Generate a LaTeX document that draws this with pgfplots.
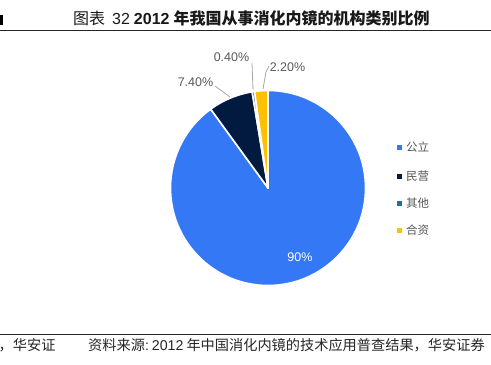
\documentclass[border=0pt]{standalone}
\usepackage{fontspec}
\setmainfont{Liberation Sans}
\newfontfamily\cjk{Noto Sans CJK SC}
\usepackage{pgfplots}
\usepackage{pgfplotstable}
\pgfplotsset{compat=1.18}

\definecolor{cBlue}{RGB}{52,120,246}
\definecolor{cNavy}{RGB}{2,26,64}
\definecolor{cTeal}{RGB}{31,110,168}
\definecolor{cYellow}{RGB}{255,192,0}
\definecolor{lblGray}{RGB}{89,89,89}
\definecolor{leadGray}{RGB}{166,166,166}
\definecolor{legGray}{RGB}{85,85,85}

% share (%) of each category, clockwise from 12 o'clock
\pgfplotstableread{
idx value
0 90
1 7.4
2 0.4
3 2.2
}\piedata

\pgfplotstablegetelem{0}{value}\of\piedata \global\let\vA\pgfplotsretval
\pgfplotstablegetelem{1}{value}\of\piedata \global\let\vB\pgfplotsretval
\pgfplotstablegetelem{2}{value}\of\piedata \global\let\vC\pgfplotsretval
\pgfplotstablegetelem{3}{value}\of\piedata \global\let\vD\pgfplotsretval

\begin{document}
\begin{tikzpicture}[x=1bp,y=1bp]
\path[use as bounding box] (0,0) rectangle (491,364);

\pgfmathsetmacro\aA{90}
\pgfmathsetmacro\aB{\aA-3.6*\vA}
\pgfmathsetmacro\aC{\aB-3.6*\vB}
\pgfmathsetmacro\aD{\aC-3.6*\vC}
\pgfmathsetmacro\aE{\aD-3.6*\vD}

% title
\fill[black] (0,339) rectangle (2.5,349);
\node[anchor=west, inner sep=0, text=black!90] at (73,346)
  {\fontsize{16bp}{19bp}\selectfont{\cjk 图表}\hspace{7bp}32\hspace{4bp}\textbf{2012}\hspace{4bp}{\cjk\bfseries 年我国从事消化内镜的机构类别比例}};
\draw[black!85, line width=1bp] (0,333.5) -- (491,333.5);

\begin{axis}[at={(268bp,176bp)}, anchor=center,
  x=97.5bp, y=97.5bp,
  xmin=-1.1, xmax=1.1, ymin=-1.1, ymax=1.1,
  hide axis, clip=false]
  \fill[cBlue, draw=white, line width=1.6bp, line join=round] (axis cs:0,0) -- (axis cs:{cos(\aA)},{sin(\aA)}) arc[start angle=\aA, end angle=\aB, radius=97.5bp] -- cycle;
  \fill[cNavy, draw=white, line width=1.6bp, line join=round] (axis cs:0,0) -- (axis cs:{cos(\aB)},{sin(\aB)}) arc[start angle=\aB, end angle=\aC, radius=97.5bp] -- cycle;
  \fill[cTeal, draw=white, line width=1.6bp, line join=round] (axis cs:0,0) -- (axis cs:{cos(\aC)},{sin(\aC)}) arc[start angle=\aC, end angle=\aD, radius=97.5bp] -- cycle;
  \fill[cYellow, draw=white, line width=1.6bp, line join=round] (axis cs:0,0) -- (axis cs:{cos(\aD)},{sin(\aD)}) arc[start angle=\aD, end angle=\aE, radius=97.5bp] -- cycle;
\end{axis}

% data labels
\node[text=white, inner sep=0] at (300,107) {\fontsize{12.5bp}{15bp}\selectfont 90\%};
\node[text=lblGray, inner sep=0] at (195.5,282) {\fontsize{12.5bp}{15bp}\selectfont 7.40\%};
\node[text=lblGray, inner sep=0] at (231.5,307) {\fontsize{12.5bp}{15bp}\selectfont 0.40\%};
\node[text=lblGray, inner sep=0] at (287.5,297) {\fontsize{12.5bp}{15bp}\selectfont 2.20\%};
\draw[leadGray, line width=0.8bp] (215,278) -- (230,267);
\draw[leadGray, line width=0.8bp] (252,301) -- (253,274);
\draw[leadGray, line width=0.8bp] (269,298) -- (266,292) -- (263,275);

% legend
\fill[cBlue] (396.5,214.5) rectangle (401.5,219.5);
\fill[cNavy] (396.5,185.5) rectangle (401.5,190.5);
\fill[cTeal] (396.5,158.5) rectangle (401.5,163.5);
\fill[cYellow] (396.5,131.5) rectangle (401.5,136.5);
\node[anchor=west, inner sep=0, text=legGray] at (406,217) {\fontsize{11.5bp}{14bp}\selectfont\cjk 公立};
\node[anchor=west, inner sep=0, text=legGray] at (406,188) {\fontsize{11.5bp}{14bp}\selectfont\cjk 民营};
\node[anchor=west, inner sep=0, text=legGray] at (406,161) {\fontsize{11.5bp}{14bp}\selectfont\cjk 其他};
\node[anchor=west, inner sep=0, text=legGray] at (406,134) {\fontsize{11.5bp}{14bp}\selectfont\cjk 合资};

% source
\draw[black!85, line width=1bp] (0,30) -- (491,30);
\node[anchor=west, inner sep=0, text=black!85] at (-1.5,19) {\fontsize{14.2bp}{17bp}\selectfont\cjk ，华安证};
\node[anchor=west, inner sep=0, text=black!85] at (88,19)
  {\fontsize{14.2bp}{17bp}\selectfont{\cjk 资料来源}:\hspace{3bp}2012\hspace{3bp}{\cjk 年中国消化内镜的技术应用普查结果，华安证券}};
\end{tikzpicture}
\end{document}
